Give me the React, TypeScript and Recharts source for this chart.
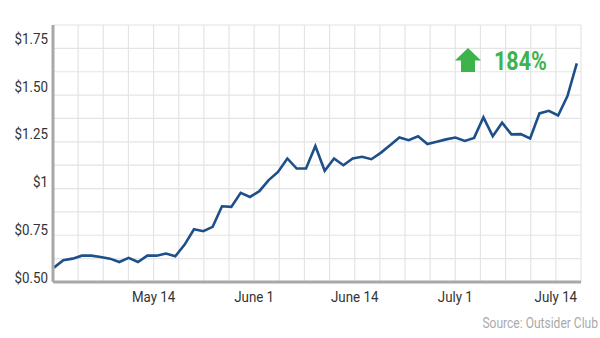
import { CartesianGrid, Line, LineChart, XAxis, YAxis } from "recharts";

// closing prices, one per trading day
const prices = [
  0.577, 0.616, 0.625, 0.641, 0.641, 0.634, 0.625, 0.607, 0.629, 0.607,
  0.641, 0.641, 0.652, 0.638, 0.7, 0.782, 0.772, 0.795, 0.905, 0.902,
  0.977, 0.955, 0.986, 1.045, 1.089, 1.161, 1.107, 1.107, 1.227, 1.095,
  1.161, 1.125, 1.161, 1.17, 1.157, 1.191, 1.232, 1.273, 1.259, 1.28,
  1.238, 1.25, 1.263, 1.273, 1.255, 1.271, 1.381, 1.28, 1.352, 1.29,
  1.291, 1.268, 1.402, 1.416, 1.391, 1.495, 1.67,
];

const dateLabels = ["May 14", "June 1", "June 14", "July 1", "July 14"];
const dateTickSlots = [4, 8, 12, 16, 20];
const gridSlots = [0, 1, 2, 3, 4, 5, 6, 7, 8, 9, 10, 11, 12, 13, 14, 15, 16, 17, 18, 19, 20, 21];

const priceTicks = [0.5, 0.625, 0.75, 0.875, 1, 1.125, 1.25, 1.375, 1.5, 1.625, 1.75, 1.875];
const priceLabels: Record<string, string> = {
  "0.5": "$0.50",
  "0.75": "$0.75",
  "1": "$1",
  "1.25": "$1.25",
  "1.5": "$1.50",
  "1.75": "$1.75",
};

const gain = "184%";
const source = "Source: Outsider Club";

const data = prices.map((price, i) => ({ i, price }));

const font = "Roboto, 'Noto Sans', sans-serif";

function PriceTick({ x, y, payload }: { x: number; y: number; payload: { value: number } }) {
  const label = priceLabels[String(payload.value)];
  if (!label) return null;
  const shift = -5 - (payload.value - 0.5) * 4;
  return (
    <g transform={`translate(${x},${y + shift})`}>
      <text transform="scale(0.86,1)" textAnchor="end" dy="0.36em" fontSize={15.5} fill="#333" fontFamily={font}>
        {label}
      </text>
    </g>
  );
}

function DateTick({ x, y, payload }: { x: number; y: number; payload: { value: number } }) {
  const idx = dateTickSlots.indexOf(payload.value);
  if (idx < 0) return null;
  return (
    <g transform={`translate(${x},${y + 12})`}>
      <text transform="scale(0.86,1)" textAnchor="middle" dy="0.36em" fontSize={15.5} fill="#333" fontFamily={font}>
        {dateLabels[idx]}
      </text>
    </g>
  );
}

export default function App() {
  return (
    <div style={{ position: "relative", width: 600, height: 338, background: "#fff" }}>
      <style>{"body{margin:0}"}</style>
      <LineChart width={600} height={338} data={data} margin={{ top: 25, right: 19, bottom: 26, left: 0 }}>
        <CartesianGrid xAxisId="grid" stroke="#e4e4e4" strokeWidth={1.2} />
        <XAxis
          xAxisId="grid"
          dataKey="slot"
          type="number"
          domain={[0, 21]}
          ticks={gridSlots}
          allowDataOverflow
          height={30}
          axisLine={{ stroke: "#a8a8a8", strokeWidth: 3 }}
          tickLine={false}
          tickSize={0}
          tick={DateTick}
          interval={0}
        />
        <XAxis xAxisId="pts" dataKey="i" type="number" domain={[-0.1, 56.45]} hide allowDataOverflow />
        <YAxis
          type="number"
          domain={[0.5, 1.875]}
          ticks={priceTicks}
          width={53}
          axisLine={{ stroke: "#a8a8a8", strokeWidth: 3 }}
          tickLine={false}
          tickSize={0}
          tickMargin={5}
          tick={PriceTick}
          interval={0}
          allowDataOverflow
        />
        <Line
          xAxisId="pts"
          type="linear"
          dataKey="price"
          stroke="#1d4f88"
          strokeWidth={2.6}
          dot={false}
          isAnimationActive={false}
        />
      </LineChart>
      <svg width={600} height={338} style={{ position: "absolute", left: 0, top: 0, pointerEvents: "none" }}>
        <path d="M455,60.5 L468,48 L481,60.5 L475,60.5 L475,72 L461,72 L461,60.5 Z" fill="#3db44b" />
        <g transform="translate(494,69.5)">
          <text transform="scale(0.86,1)" fontSize={25} fontWeight={700} fill="#3db44b" fontFamily={font}>
            {gain}
          </text>
        </g>
        <g transform="translate(598,328)">
          <text transform="scale(0.86,1)" textAnchor="end" fontSize={14} fill="#aaa" fontFamily={font}>
            {source}
          </text>
        </g>
      </svg>
    </div>
  );
}
